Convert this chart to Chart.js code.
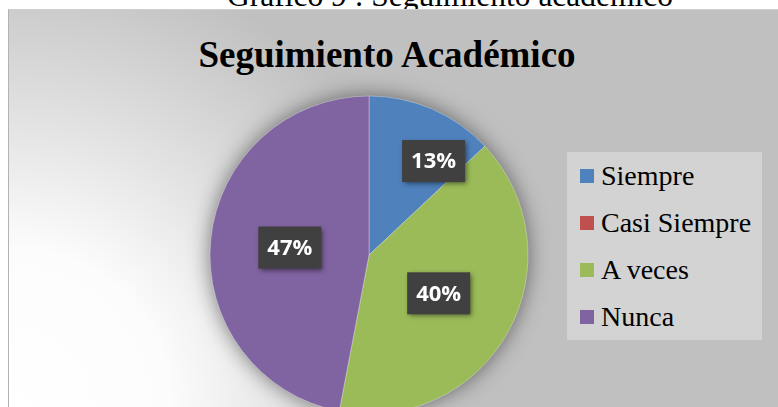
<!DOCTYPE html>
<html lang="es">
<head>
<meta charset="UTF-8">
<title>Seguimiento Académico</title>
<script src="https://cdn.jsdelivr.net/npm/chart.js"></script>
<style>
  body { margin: 0; width: 778px; height: 407px; overflow: hidden; position: relative; background: #fff; }
  #caption { position: absolute; left: 0; top: -20px; width: 900px; text-align: center;
    font: 31.5px/1 "Liberation Serif", "DejaVu Serif", serif; color: #000; white-space: nowrap; }
  #frame { position: absolute; left: 8px; top: 9px; width: 770px; height: 420px;
    border-left: 1px solid #b3b3b3; border-top: 1px solid #d0d0d0;
    background: radial-gradient(circle at 0px 398px, #ffffff 0px, #fcfcfc 160px, #c0c0c0 460px); }
  #title { position: absolute; left: 0; top: 36px; width: 774px; text-align: center;
    font: bold 37px/1 "Liberation Serif", serif; color: #000; white-space: nowrap; }
  #wrap { position: absolute; left: 0; top: 0; width: 778px; height: 430px; }
  #legend { position: absolute; left: 567px; top: 152px; width: 195px; height: 188px; background: #d3d3d3; }
  .item { height: 47px; display: flex; align-items: center; padding-left: 13px;
    font: 28px/47px "Liberation Serif", serif; color: #000; white-space: nowrap; }
  .sw { width: 14px; height: 14px; margin-right: 7px; flex: none; }
</style>
</head>
<body>
<div id="caption">Gráfico 9 : Seguimiento académico</div>
<div id="frame"></div>
<div id="title">Seguimiento Académico</div>
<div id="wrap"><canvas id="pie"></canvas></div>
<div id="legend"></div>

<script>
// data (percent)
const labels = ['Siempre', 'Casi Siempre', 'A veces', 'Nunca'];
const values = [13, 0, 40, 47];
const colors = ['#4F81BD', '#C0504D', '#9BBB59', '#8064A2'];

// Excel moved the small slice's label out a bit
const labelNudgeX = [33, 0, 0, 0];
const labelNudgeY = [-21, 0, 0, 0];

// legend built from the same arrays
const legendEl = document.getElementById('legend');
labels.forEach((l, i) => {
    const row = document.createElement('div');
    row.className = 'item';
    row.innerHTML = '<span class="sw" style="background:' + colors[i] + '"></span>' + l;
    legendEl.appendChild(row);
});

// soft shadow under the pie
const pieShadow = {
    id: 'pieShadow',
    beforeDatasetsDraw(chart) {
        const arc = chart.getDatasetMeta(0).data[0];
        if (!arc) return;
        const { x, y, outerRadius } = arc.getProps(['x', 'y', 'outerRadius'], true);
        const ctx = chart.ctx;
        ctx.save();
        ctx.shadowColor = 'rgba(0,0,0,0.55)';
        ctx.shadowBlur = 22;
        ctx.fillStyle = '#888';
        ctx.beginPath();
        ctx.arc(x, y, outerRadius - 1, 0, Math.PI * 2);
        ctx.fill();
        ctx.restore();
    }
};

// dark percent boxes
const pctLabels = {
    id: 'pctLabels',
    afterDatasetsDraw(chart) {
        const ctx = chart.ctx;
        const total = values.reduce((s, v) => s + v, 0);
        chart.getDatasetMeta(0).data.forEach((arc, i) => {
            if (!values[i]) return;
            const p = arc.getProps(['x', 'y', 'startAngle', 'endAngle', 'outerRadius'], true);
            const mid = (p.startAngle + p.endAngle) / 2;
            const cx = p.x + Math.cos(mid) * p.outerRadius * 0.5 + labelNudgeX[i];
            const cy = p.y + Math.sin(mid) * p.outerRadius * 0.5 + labelNudgeY[i];
            const w = 63, h = 42;
            ctx.save();
            ctx.shadowColor = 'rgba(0,0,0,0.5)';
            ctx.shadowBlur = 5;
            ctx.shadowOffsetX = 2;
            ctx.shadowOffsetY = 2;
            ctx.fillStyle = '#404040';
            ctx.fillRect(cx - w / 2, cy - h / 2, w, h);
            ctx.restore();
            ctx.save();
            ctx.fillStyle = '#fff';
            ctx.font = 'bold 22px "Open Sans", sans-serif';
            ctx.textAlign = 'center';
            ctx.textBaseline = 'middle';
            ctx.fillText(Math.round(values[i] / total * 100) + '%', cx, cy + 1);
            ctx.restore();
        });
    }
};

new Chart(document.getElementById('pie'), {
    type: 'pie',
    data: {
        labels: labels,
        datasets: [{
            data: values,
            backgroundColor: colors,
            borderColor: 'rgba(255,255,255,0.3)',
            borderWidth: 1,
            hoverOffset: 0,
            radius: 159
        }]
    },
    options: {
        responsive: true,
        maintainAspectRatio: false,
        animation: false,
        layout: { padding: { left: 199, right: 239, top: 90, bottom: 10 } },
        plugins: {
            legend: { display: false },
            title: { display: false },
            tooltip: { enabled: false }
        }
    },
    plugins: [pieShadow, pctLabels]
});
</script>
</body>
</html>
